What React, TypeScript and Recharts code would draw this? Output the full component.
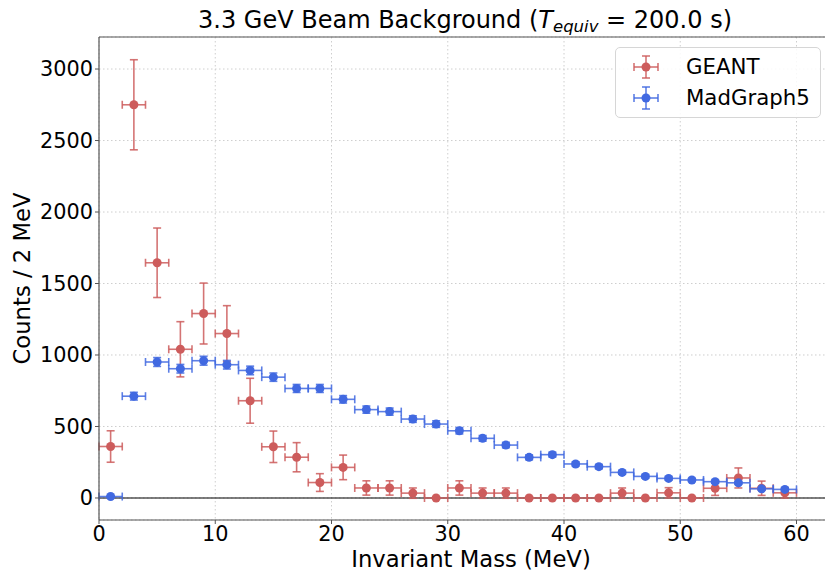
import React from "react";
import {
  ScatterChart,
  Scatter,
  XAxis,
  YAxis,
  CartesianGrid,
  ErrorBar,
  ReferenceLine,
} from "recharts";

const binCenters = [1, 3, 5, 7, 9, 11, 13, 15, 17, 19, 21, 23, 25, 27, 29, 31, 33, 35, 37, 39, 41, 43, 45, 47, 49, 51, 53, 55, 57, 59];
const binHalfWidth = 1;

const geantCounts = [360, 2750, 1645, 1040, 1290, 1150, 680, 358, 285, 108, 214, 70, 70, 34, 0, 70, 34, 34, 0, 0, 0, 0, 34, 0, 36, 0, 68, 140, 68, 36];
const geantErrors = [110, 315, 243, 193, 213, 195, 157, 110, 102, 62, 86, 50, 50, 36, 0, 50, 36, 36, 0, 0, 0, 0, 36, 0, 36, 0, 50, 70, 50, 36];

const madgraphCounts = [10, 712, 951, 904, 960, 932, 892, 845, 766, 766, 690, 618, 604, 552, 517, 470, 417, 370, 284, 303, 238, 219, 179, 151, 137, 126, 114, 106, 64, 60];
const madgraphErrors = [3, 27, 31, 30, 31, 30, 30, 29, 28, 28, 26, 25, 25, 23, 23, 22, 20, 19, 17, 17, 15, 15, 13, 12, 12, 11, 11, 10, 8, 8];

const xTicks = [0, 10, 20, 30, 40, 50, 60];
const yTicks = [0, 500, 1000, 1500, 2000, 2500, 3000];

const seriesNames = ["GEANT", "MadGraph5"];
const seriesColors = ["#CD5C5C", "#4169E1"];

const xDomain = [0, 64];
const yDomain = [-154, 3224];

const FONT = "'DejaVu Sans', Verdana, sans-serif";

const toRows = (counts: number[], errs: number[]) =>
  binCenters.map((x, i) => ({ x, y: counts[i], ex: binHalfWidth, ey: errs[i] }));

const geantData = toRows(geantCounts, geantErrors);
const madgraphData = toRows(madgraphCounts, madgraphErrors);

const makeDot = (color: string) => (props: any) => {
  const { cx, cy } = props;
  if (cx == null || cy == null) return <g />;
  return <circle cx={cx} cy={cy} r={4.5} fill={color} />;
};

const LegendBox = () => (
  <div
    style={{
      position: "absolute",
      left: 615,
      top: 47,
      width: 206,
      height: 71,
      border: "1px solid #d6d6d6",
      borderRadius: 5,
      background: "rgba(255,255,255,0.85)",
      fontFamily: FONT,
      fontSize: 21.3,
      boxSizing: "border-box",
      paddingTop: 3,
    }}
  >
    {seriesNames.map((name, i) => (
      <div key={name} style={{ display: "flex", alignItems: "center", height: 31, lineHeight: "31px" }}>
        <svg width={70} height={28} style={{ flex: "none" }}>
          <g stroke={seriesColors[i]} strokeWidth={1.6} strokeOpacity={0.85}>
            <line x1={18} y1={14} x2={42} y2={14} />
            <line x1={18} y1={10} x2={18} y2={18} />
            <line x1={42} y1={10} x2={42} y2={18} />
            <line x1={30} y1={3} x2={30} y2={25} />
            <line x1={26} y1={3} x2={34} y2={3} />
            <line x1={26} y1={25} x2={34} y2={25} />
          </g>
          <circle cx={30} cy={14} r={4.5} fill={seriesColors[i]} />
        </svg>
        <span style={{ color: "#000" }}>{name}</span>
      </div>
    ))}
  </div>
);

export default function App() {
  return (
    <div
      style={{
        position: "absolute",
        left: 0,
        top: 0,
        width: 825,
        height: 571,
        overflow: "hidden",
        background: "#fff",
        fontFamily: FONT,
      }}
    >
      <svg width={825} height={36} style={{ position: "absolute", left: 0, top: 0 }}>
        <text x={465} y={28} textAnchor="middle" fontFamily={FONT} fontSize={24} fill="#000">
          <tspan>3.3 GeV Beam Background (</tspan>
          <tspan fontStyle="italic">T</tspan>
          <tspan fontStyle="italic" fontSize={16.5} dy={4}>equiv</tspan>
          <tspan dy={-4}> = 200.0 s)</tspan>
        </text>
      </svg>
      <div style={{ position: "absolute", left: 0, top: 0 }}>
        <ScatterChart
          width={843}
          height={571}
          margin={{ top: 37, right: 0, bottom: 0, left: 0 }}
        >
          <CartesianGrid stroke="#c8c8c8" strokeDasharray="1.5 2.5" strokeWidth={0.9} />
          <XAxis
            type="number"
            dataKey="x"
            domain={xDomain}
            ticks={xTicks}
            allowDataOverflow
            height={51}
            tickSize={4}
            tickMargin={2}
            stroke="#555"
            axisLine={{ stroke: "#555", strokeWidth: 1.2 }}
            tickLine={{ stroke: "#555" }}
            tick={{ fill: "#000", fontSize: 20.8, fontFamily: FONT }}
            label={{
              value: "Invariant Mass (MeV)",
              position: "insideBottom",
              offset: 4,
              fill: "#000",
              fontSize: 22.7,
              fontFamily: FONT,
              dx: 0,
            }}
          />
          <YAxis
            type="number"
            dataKey="y"
            domain={yDomain}
            ticks={yTicks}
            allowDataOverflow
            width={99}
            tickSize={4}
            tickMargin={2}
            stroke="#555"
            axisLine={{ stroke: "#555", strokeWidth: 1.2 }}
            tickLine={{ stroke: "#555" }}
            tick={{ fill: "#000", fontSize: 20.8, fontFamily: FONT }}
            label={{
              value: "Counts / 2 MeV",
              angle: -90,
              position: "insideLeft",
              offset: 22,
              fill: "#000",
              fontSize: 22.7,
              fontFamily: FONT,
              style: { textAnchor: "middle" },
            }}
          />
          <ReferenceLine y={yDomain[1]} stroke="#555" strokeWidth={1.2} />
          <ReferenceLine y={0} stroke="#000" strokeWidth={1.2} />
          <Scatter
            name={seriesNames[0]}
            data={geantData}
            fill={seriesColors[0]}
            shape={makeDot(seriesColors[0])}
            isAnimationActive={false}
          >
            <ErrorBar dataKey="ex" direction="x" width={4} stroke={seriesColors[0]} strokeWidth={1.6} strokeOpacity={0.85} />
            <ErrorBar dataKey="ey" direction="y" width={4} stroke={seriesColors[0]} strokeWidth={1.6} strokeOpacity={0.85} />
          </Scatter>
          <Scatter
            name={seriesNames[1]}
            data={madgraphData}
            fill={seriesColors[1]}
            shape={makeDot(seriesColors[1])}
            isAnimationActive={false}
          >
            <ErrorBar dataKey="ex" direction="x" width={4} stroke={seriesColors[1]} strokeWidth={1.6} strokeOpacity={0.85} />
            <ErrorBar dataKey="ey" direction="y" width={4} stroke={seriesColors[1]} strokeWidth={1.6} strokeOpacity={0.85} />
          </Scatter>
        </ScatterChart>
      </div>
      <LegendBox />
    </div>
  );
}
